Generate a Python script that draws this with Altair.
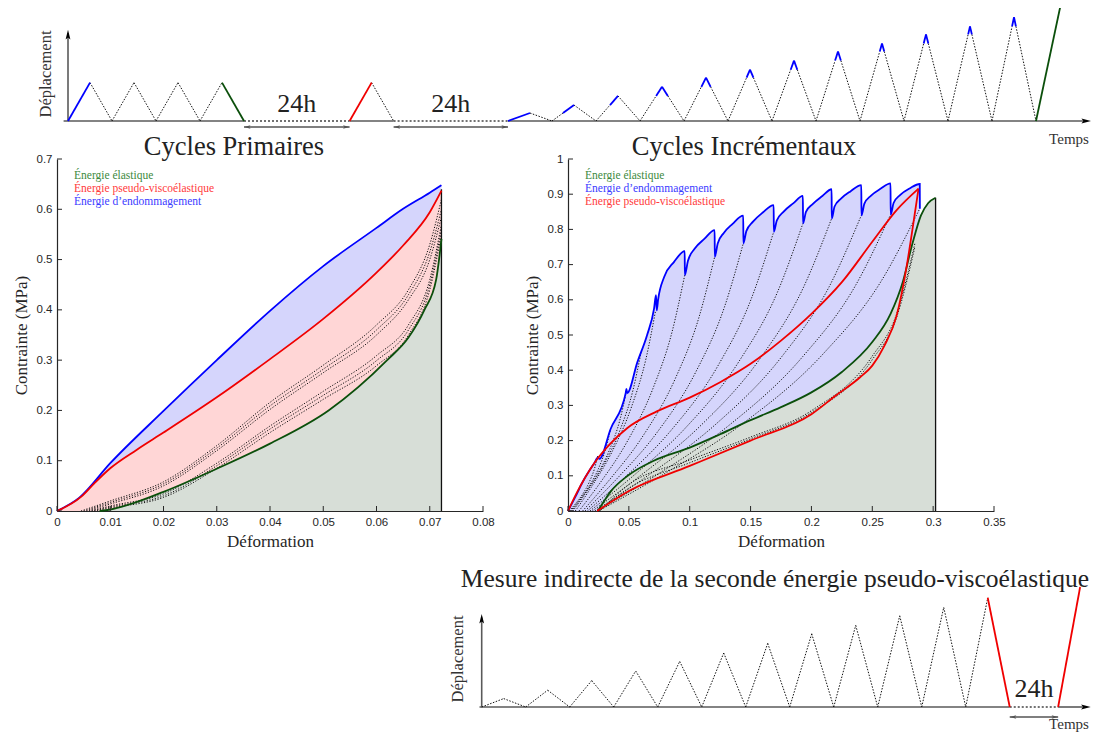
import altair as alt
import pandas as pd

SERIF = "Liberation Serif"
SANS = "Liberation Sans"
AX = "#262626"

# ---------------- schematic (displacement vs time) data ----------------
prim_peak = 3.37
prim_t = [0, 1, 2, 3, 4, 5, 6, 7, 8]
prim_d = [0, prim_peak, 0, prim_peak, 0, prim_peak, 0, prim_peak, 0]
prim_kind = ["blue", "dot", "dot", "dot", "dot", "dot", "dot", "green"]
red_cycle_t = [12.8, 13.8, 14.8]
rest_top_start = [8, 14.8]
rest_top_end = [12.8, 20]
inc_start_top = 20
inc_peaks = [0.7, 1.4, 2.2, 3.0, 3.8, 4.5, 5.3, 6.1, 6.8, 7.6, 8.3, 9.1]
final_top = 10.0
final_t_top = [44, 45.1]
top_x_domain = [-0.5, 46.5]
top_axis_t = [-0.2, 46.5]
top_arrow_d = 8.0

inc_start_bot = 0
rest_bot_start = [24]
rest_bot_end = [26.2]
final_t_bot = [26.2, 27.2]
bot_x_domain = [-0.1, 27.68]
bot_axis_t = [-0.1, 27.68]
bot_arrow_d = 7.75

# ---------------- Cycles Primaires data ----------------
prim_blue_x = [0, 0.0042, 0.01, 0.02, 0.03, 0.04, 0.05, 0.06, 0.065, 0.07, 0.0722]
prim_blue_y = [0, 0.0265, 0.095, 0.199, 0.300, 0.398, 0.487, 0.563, 0.601, 0.633, 0.648]
prim_red_x = [0, 0.0045, 0.007, 0.01, 0.015, 0.02, 0.03, 0.04, 0.05, 0.06, 0.065, 0.07, 0.0722]
prim_red_y = [0, 0.028, 0.055, 0.085, 0.122, 0.156, 0.226, 0.302, 0.382, 0.474, 0.528, 0.594, 0.637]
prim_green_x = [0.008, 0.01, 0.013, 0.02, 0.03, 0.04, 0.051, 0.062, 0.066, 0.069, 0.0712, 0.0722]
prim_green_y = [0, 0.003, 0.011, 0.038, 0.084, 0.134, 0.2, 0.3, 0.345, 0.4, 0.46, 0.541]
prim_dot_x0 = [0.0045, 0.005, 0.0055, 0.006, 0.0065, 0.007]
prim_dot_x = [0.01, 0.02, 0.03, 0.04, 0.05, 0.06, 0.066, 0.07, 0.0722]
prim_dot_y = [
    [0.02, 0.058, 0.13, 0.216, 0.29, 0.37, 0.44, 0.53, 0.62],
    [0.017, 0.054, 0.125, 0.209, 0.282, 0.36, 0.43, 0.515, 0.6],
    [0.014, 0.05, 0.12, 0.202, 0.275, 0.35, 0.42, 0.5, 0.585],
    [0.01, 0.034, 0.095, 0.169, 0.238, 0.309, 0.37, 0.46, 0.57],
    [0.008, 0.03, 0.09, 0.163, 0.23, 0.299, 0.36, 0.45, 0.56],
    [0.006, 0.027, 0.085, 0.156, 0.222, 0.289, 0.35, 0.44, 0.55],
]
prim_end_x = 0.0722
prim_end_top = 0.64
prim_x_ticks = [0, 0.01, 0.02, 0.03, 0.04, 0.05, 0.06, 0.07, 0.08]
prim_y_ticks = [0, 0.1, 0.2, 0.3, 0.4, 0.5, 0.6, 0.7]

# ---------------- Cycles Incrementaux data ----------------
inc_blue_x = [0, 0.006, 0.0118, 0.0214, 0.0247, 0.0258, 0.035, 0.0474, 0.048, 0.0486,
              0.057, 0.065, 0.0707, 0.0723, 0.0729, 0.074, 0.079, 0.087, 0.0959,
              0.096, 0.0985, 0.104, 0.112, 0.1205,
              0.1206, 0.123, 0.128, 0.135, 0.144,
              0.1441, 0.1465, 0.152, 0.16, 0.169,
              0.1691, 0.1715, 0.177, 0.185, 0.193,
              0.1931, 0.1955, 0.201, 0.209, 0.2166,
              0.2167, 0.219, 0.2245, 0.232, 0.241,
              0.2411, 0.2435, 0.249, 0.257, 0.265,
              0.2651, 0.2675, 0.273, 0.281, 0.289, 0.2891]
inc_blue_y = [0, 0.04, 0.081, 0.135, 0.152, 0.148, 0.233, 0.335, 0.347, 0.335,
              0.423, 0.5, 0.575, 0.613, 0.57, 0.6, 0.665, 0.707, 0.738,
              0.67, 0.71, 0.745, 0.773, 0.798,
              0.722, 0.76, 0.79, 0.815, 0.839,
              0.76, 0.795, 0.822, 0.848, 0.869,
              0.793, 0.825, 0.85, 0.874, 0.895,
              0.817, 0.85, 0.872, 0.895, 0.914,
              0.831, 0.865, 0.888, 0.908, 0.926,
              0.84, 0.873, 0.896, 0.916, 0.931,
              0.842, 0.875, 0.898, 0.917, 0.929, 0.859]
inc_red_up_x = [0, 0.0077, 0.0214, 0.035, 0.0488, 0.073, 0.1, 0.125, 0.15, 0.175, 0.2, 0.225, 0.25, 0.27, 0.288]
inc_red_up_y = [0, 0.055, 0.135, 0.192, 0.236, 0.283, 0.322, 0.366, 0.418, 0.484, 0.56, 0.65, 0.765, 0.855, 0.916]
inc_red_dn_x = [0.024, 0.05, 0.1, 0.15, 0.2, 0.22, 0.24, 0.25, 0.26, 0.27, 0.278, 0.283, 0.286, 0.288]
inc_red_dn_y = [0, 0.057, 0.128, 0.2, 0.275, 0.328, 0.38, 0.413, 0.47, 0.555, 0.69, 0.8, 0.87, 0.916]
inc_green_x = [0.0245, 0.03, 0.035, 0.049, 0.07, 0.1, 0.125, 0.15, 0.175, 0.2, 0.225, 0.25, 0.265, 0.275, 0.283, 0.29, 0.296, 0.302]
inc_green_y = [0, 0.03, 0.055, 0.1, 0.142, 0.18, 0.218, 0.258, 0.295, 0.337, 0.395, 0.48, 0.56, 0.65, 0.76, 0.84, 0.875, 0.89]
inc_dot_x = [
    [0.001, 0.0057, 0.0117, 0.0176, 0.0219, 0.0247],
    [0.002, 0.0086, 0.0169, 0.0251, 0.031, 0.035],
    [0.003, 0.012, 0.0233, 0.0345, 0.0426, 0.048],
    [0.004, 0.0152, 0.0292, 0.0432, 0.0533, 0.06],
    [0.006, 0.0192, 0.0357, 0.0522, 0.0641, 0.072],
    [0.009, 0.0264, 0.0481, 0.0698, 0.0855, 0.0959],
    [0.012, 0.0337, 0.0608, 0.088, 0.1075, 0.1205],
    [0.014, 0.04, 0.0725, 0.105, 0.1284, 0.144],
    [0.016, 0.0466, 0.0849, 0.1231, 0.1506, 0.169],
    [0.018, 0.053, 0.0968, 0.1405, 0.172, 0.193],
    [0.02, 0.0593, 0.1085, 0.1576, 0.193, 0.2166],
    [0.022, 0.0658, 0.1206, 0.1753, 0.2147, 0.241],
    [0.024, 0.0722, 0.1325, 0.1927, 0.2361, 0.265],
    [0.025, 0.0778, 0.1438, 0.2098, 0.2573, 0.289],
    [0.026, 0.05, 0.1, 0.15, 0.2, 0.25, 0.27, 0.285],
    [0.025, 0.05, 0.1, 0.15, 0.2, 0.25, 0.27, 0.285],
]
inc_dot_y = [
    [0, 0.019, 0.046, 0.083, 0.122, 0.16],
    [0, 0.028, 0.068, 0.121, 0.177, 0.233],
    [0, 0.041, 0.099, 0.177, 0.258, 0.34],
    [0, 0.054, 0.131, 0.234, 0.342, 0.45],
    [0, 0.068, 0.165, 0.296, 0.433, 0.57],
    [0, 0.080, 0.194, 0.348, 0.509, 0.67],
    [0, 0.087, 0.209, 0.375, 0.549, 0.722],
    [0, 0.091, 0.22, 0.395, 0.578, 0.76],
    [0, 0.095, 0.23, 0.412, 0.603, 0.793],
    [0, 0.098, 0.237, 0.425, 0.621, 0.817],
    [0, 0.1, 0.241, 0.432, 0.632, 0.831],
    [0, 0.101, 0.244, 0.437, 0.638, 0.84],
    [0, 0.101, 0.244, 0.438, 0.64, 0.842],
    [0, 0.103, 0.249, 0.447, 0.653, 0.859],
    [0, 0.075, 0.145, 0.21, 0.285, 0.44, 0.56, 0.76],
    [0, 0.065, 0.137, 0.205, 0.28, 0.43, 0.55, 0.75],
]
inc_end_x = 0.302
inc_end_top = 0.89
inc_x_ticks = [0, 0.05, 0.1, 0.15, 0.2, 0.25, 0.3, 0.35]
inc_y_ticks = [0, 0.1, 0.2, 0.3, 0.4, 0.5, 0.6, 0.7, 0.8, 0.9, 1]

prim_legend = ["Énergie élastique", "Énergie pseudo-viscoélastique", "Énergie d’endommagement"]
prim_legend_col = ["#3d8a3d", "#ff3b3b", "#3b3bff"]
inc_legend = ["Énergie élastique", "Énergie d’endommagement", "Énergie pseudo-viscoélastique"]
inc_legend_col = ["#3d8a3d", "#3b3bff", "#ff3b3b"]

BLUE, RED, GREEN = "#0000ff", "#f00000", "#0b4f0b"
BLUE_FILL, RED_FILL, GREEN_FILL = "#d5d5fc", "#ffd6d6", "#d7ded7"
KIND_COLORS = {"blue": BLUE, "red": RED, "green": GREEN}

# ---------------- schematic builders ----------------
def incremental(t0, peaks, blue_tops, last_down_red=False):
    segs = []
    prev = 0
    for k, h in enumerate(peaks):
        ta, tp, tb = t0 + 2 * k, t0 + 2 * k + 1, t0 + 2 * k + 2
        if blue_tops:
            if k == 0:
                segs.append(("blue", [(ta, 0), (tp, h)]))
            else:
                tm = ta + prev / h
                segs.append(("dot", [(ta, 0), (tm, prev)]))
                segs.append(("blue", [(tm, prev), (tp, h)]))
            if k >= 3:
                tn = tp + (1 - prev / h)
                segs.append(("blue", [(tp, h), (tn, prev)]))
                segs.append(("dot", [(tn, prev), (tb, 0)]))
            else:
                segs.append(("dot", [(tp, h), (tb, 0)]))
        else:
            segs.append(("dot", [(ta, 0), (tp, h)]))
            kind = "red" if (last_down_red and k == len(peaks) - 1) else "dot"
            segs.append((kind, [(tp, h), (tb, 0)]))
        prev = h
    return segs


def seg_df(segs):
    rows = []
    for sid, (kind, pts) in enumerate(segs):
        for i, (t, d) in enumerate(pts):
            rows.append(dict(seg=sid, kind=kind, t=t, d=d, i=i))
    return pd.DataFrame(rows)


ARROW_UP = "M0,0 L0.6,2.4 L0,1.9 L-0.6,2.4 Z"
ARROW_RIGHT = "M0,0 L-2.4,0.6 L-1.9,0 L-2.4,-0.6 Z"
ARROW_LEFT = "M0,0 L2.4,0.6 L1.9,0 L2.4,-0.6 Z"


def text_layer(txt, x, y, size, color="#222222", angle=0, align="center"):
    mk = dict(font=SERIF, fontSize=size, color=color, baseline="middle", align=align)
    if angle:
        mk["angle"] = angle
    return alt.Chart(pd.DataFrame({"lbl": [txt]})).mark_text(**mk).encode(
        x=alt.value(x), y=alt.value(y), text="lbl:N")


def schematic(segs, axis_segs, xs, ys, arrow_t, arrow_d, rests_s, rests_e,
              lab_pos, temps_pos, h24_y, dbl_y, extra_text=None):
    X = lambda f: alt.X(f, type="quantitative", scale=xs, axis=None)
    Y = lambda f: alt.Y(f, type="quantitative", scale=ys, axis=None)
    sdf = seg_df(segs)
    adf = seg_df(axis_segs)
    layers = []
    layers.append(alt.Chart(adf[adf.kind == "axis"]).mark_line(color="#5a5a5a", strokeWidth=1.6).encode(
        x=X("t"), y=Y("d"), detail="seg:N", order="i:Q"))
    layers.append(alt.Chart(adf[adf.kind == "axisdot"]).mark_line(color="#444444", strokeWidth=1.3, strokeDash=[2, 2]).encode(
        x=X("t"), y=Y("d"), detail="seg:N", order="i:Q"))
    layers.append(alt.Chart(sdf[sdf.kind == "dot"]).mark_line(color="#111111", strokeWidth=1, strokeDash=[1.5, 1.5]).encode(
        x=X("t"), y=Y("d"), detail="seg:N", order="i:Q"))
    for kind, col in KIND_COLORS.items():
        sub = sdf[sdf.kind == kind]
        if len(sub):
            layers.append(alt.Chart(sub).mark_line(strokeWidth=1.8, color=col).encode(
                x=X("t"), y=Y("d"), detail="seg:N", order="i:Q"))
    layers.append(alt.Chart(pd.DataFrame({"t": [0], "d": [arrow_d]})).mark_point(
        shape=ARROW_UP, filled=True, size=64, color="black", opacity=1, strokeWidth=0).encode(x=X("t"), y=Y("d")))
    layers.append(alt.Chart(pd.DataFrame({"t": [arrow_t], "d": [0]})).mark_point(
        shape=ARROW_RIGHT, filled=True, size=64, color="black", opacity=1, strokeWidth=0).encode(x=X("t"), y=Y("d")))
    rdf = pd.DataFrame({"s": rests_s, "e": rests_e})
    rdf["mid"] = (rdf.s + rdf.e) / 2
    rdf["lbl"] = "24h"
    layers.append(alt.Chart(rdf).mark_rule(color="#555555", strokeWidth=1.3).encode(
        x=X("s"), x2="e:Q", y=alt.value(dbl_y)))
    layers.append(alt.Chart(rdf).mark_point(shape=ARROW_LEFT, filled=True, size=30, color="#555555", opacity=1, strokeWidth=0).encode(
        x=X("s"), y=alt.value(dbl_y)))
    layers.append(alt.Chart(rdf).mark_point(shape=ARROW_RIGHT, filled=True, size=30, color="#555555", opacity=1, strokeWidth=0).encode(
        x=X("e"), y=alt.value(dbl_y)))
    layers.append(alt.Chart(rdf).mark_text(
        font=SERIF, fontSize=26, color="#222222", baseline="middle").encode(
        x=X("mid"), y=alt.value(h24_y), text="lbl:N"))
    layers.append(text_layer("Déplacement", lab_pos[0], lab_pos[1], 16.5, "#333333", angle=270))
    layers.append(text_layer("Temps", temps_pos[0], temps_pos[1], 15, "#333333"))
    if extra_text:
        txt, pos, fs = extra_text
        layers.append(text_layer(txt, pos[0], pos[1], fs))
    return alt.layer(*layers)


# top schematic segments
top_segs = []
for k in range(len(prim_t) - 1):
    top_segs.append((prim_kind[k], [(prim_t[k], prim_d[k]), (prim_t[k + 1], prim_d[k + 1])]))
top_segs.append(("red", [(red_cycle_t[0], 0), (red_cycle_t[1], prim_peak)]))
top_segs.append(("dot", [(red_cycle_t[1], prim_peak), (red_cycle_t[2], 0)]))
top_segs += incremental(inc_start_top, inc_peaks, blue_tops=True)
top_segs.append(("green", [(final_t_top[0], 0), (final_t_top[1], final_top)]))

top_axis = [("axis", [(0, 0), (0, top_arrow_d - 0.3)]),
            ("axis", [(top_axis_t[0], 0), (rest_top_start[0], 0)]),
            ("axisdot", [(rest_top_start[0], 0), (rest_top_end[0], 0)]),
            ("axis", [(rest_top_end[0], 0), (rest_top_start[1], 0)]),
            ("axisdot", [(rest_top_start[1], 0), (rest_top_end[1], 0)]),
            ("axis", [(rest_top_end[1], 0), (top_axis_t[1] - 0.2, 0)])]

bot_segs = incremental(inc_start_bot, inc_peaks, blue_tops=False, last_down_red=True)
bot_segs.append(("red", [(final_t_bot[0], 0), (final_t_bot[1], final_top)]))
bot_axis = [("axis", [(0, 0), (0, bot_arrow_d - 0.3)]),
            ("axis", [(bot_axis_t[0], 0), (rest_bot_start[0], 0)]),
            ("axisdot", [(rest_bot_start[0], 0), (rest_bot_end[0], 0)]),
            ("axis", [(rest_bot_end[0], 0), (bot_axis_t[1] - 0.2, 0)])]

TOP_W, TOP_H = 1034, 114
top = schematic(top_segs, top_axis,
                alt.Scale(domain=top_x_domain, nice=False, zero=False),
                alt.Scale(domain=[0, 10], nice=False, zero=False),
                top_axis_t[1], top_arrow_d, rest_top_start, rest_top_end,
                lab_pos=(-11, 67), temps_pos=(1012, 132), h24_y=97, dbl_y=120
                ).properties(width=TOP_W, height=TOP_H)

# bottom schematic, drawn in the frame of the right panel (placed below it)
bottom = schematic(bot_segs, bot_axis,
                   alt.Scale(domain=bot_x_domain, range=[-88.5, 522.7], nice=False, zero=False),
                   alt.Scale(domain=[0, 10], range=[548, 428], nice=False, zero=False),
                   bot_axis_t[1], bot_arrow_d, rest_bot_start, rest_bot_end,
                   lab_pos=(-110, 500), temps_pos=(501, 565), h24_y=530, dbl_y=558,
                   extra_text=("Mesure indirecte de la seconde énergie pseudo-viscoélastique", (207, 420), 25.5))


# ---------------- stress-strain panels ----------------
def curve(xs, ys, name):
    return pd.DataFrame({"x": xs, "y": ys, "i": list(range(len(xs))), "c": name})


def panel(xdom, ydom, xticks, yticks, H, fills, lines, dots, end_x, end_top, title, legend, legend_cols):
    xsc = alt.Scale(domain=xdom, nice=False, zero=False)
    ysc = alt.Scale(domain=ydom, nice=False, zero=False)
    X = lambda f: alt.X(f, type="quantitative", scale=xsc,
                        axis=alt.Axis(values=xticks, format="~g", title="Déformation"))
    Y = lambda f: alt.Y(f, type="quantitative", scale=ysc,
                        axis=alt.Axis(values=yticks, format="~g", title="Contrainte (MPa)"))
    layers = []
    for df, col in fills:
        layers.append(alt.Chart(df).mark_area(color=col, opacity=1, interpolate="monotone").encode(x=X("x"), y=Y("y")))
    ddf = pd.concat(dots, ignore_index=True)
    layers.append(alt.Chart(ddf).mark_line(color="#111111", strokeWidth=1, strokeDash=[1.2, 1.6], interpolate="monotone").encode(
        x=X("x"), y=Y("y"), detail="c:N", order="i:Q"))
    layers.append(alt.Chart(pd.DataFrame({"x": [end_x], "y0": [0], "y1": [end_top]})).mark_rule(
        color="#111111", strokeWidth=1.3).encode(x=X("x"), y=Y("y0"), y2="y1:Q"))
    for df, col in lines:
        layers.append(alt.Chart(df).mark_line(color=col, strokeWidth=1.8, interpolate="monotone").encode(
            x=X("x"), y=Y("y"), order="i:Q"))
    layers.append(alt.Chart(pd.DataFrame({"x": xticks})).mark_rule(color=AX, strokeWidth=1).encode(
        x=X("x"), y=alt.value(H), y2=alt.value(H - 5)))
    layers.append(alt.Chart(pd.DataFrame({"y": yticks})).mark_rule(color=AX, strokeWidth=1).encode(
        y=Y("y"), x=alt.value(0), x2=alt.value(5)))
    for k, (lbl, col) in enumerate(zip(legend, legend_cols)):
        layers.append(text_layer(lbl, 17, 17 + 13 * k, 11.5, col, align="left"))
    layers.append(text_layer(title[0], title[1], -12, 26.5))
    return alt.layer(*layers)


PW, PH = 426, 352
left = panel([0, 0.08], [0, 0.7], prim_x_ticks, prim_y_ticks, PH,
             fills=[(curve(prim_blue_x, prim_blue_y, "b"), BLUE_FILL),
                    (curve(prim_red_x, prim_red_y, "r"), RED_FILL),
                    (curve(prim_green_x, prim_green_y, "g"), GREEN_FILL)],
             lines=[(curve(prim_green_x, prim_green_y, "g"), GREEN),
                    (curve(prim_blue_x, prim_blue_y, "b"), BLUE),
                    (curve(prim_red_x, prim_red_y, "r"), RED)],
             dots=[curve([prim_dot_x0[j]] + prim_dot_x, [0] + prim_dot_y[j], "d%d" % j) for j in range(len(prim_dot_x0))],
             end_x=prim_end_x, end_top=prim_end_top,
             title=("Cycles Primaires", 177), legend=prim_legend, legend_cols=prim_legend_col
             ).properties(width=PW, height=PH)

right_panel = panel([0, 0.35], [0, 1], inc_x_ticks, inc_y_ticks, PH,
                    fills=[(curve(inc_blue_x, inc_blue_y, "b"), BLUE_FILL),
                           (curve(inc_green_x, inc_green_y, "g"), GREEN_FILL)],
                    lines=[(curve(inc_green_x, inc_green_y, "g"), GREEN),
                           (curve(inc_red_dn_x, inc_red_dn_y, "rd"), RED),
                           (curve(inc_blue_x, inc_blue_y, "b"), BLUE),
                           (curve(inc_red_up_x, inc_red_up_y, "ru"), RED)],
                    dots=[curve(inc_dot_x[j], inc_dot_y[j], "d%d" % j) for j in range(len(inc_dot_x))],
                    end_x=inc_end_x, end_top=inc_end_top,
                    title=("Cycles Incrémentaux", 176), legend=inc_legend, legend_cols=inc_legend_col)

right = alt.layer(right_panel, bottom).resolve_scale(
    x="independent", y="independent").properties(width=PW, height=PH)

middle = alt.hconcat(left, right, spacing=85, bounds="flush")

chart = alt.vconcat(top, middle, spacing=38, bounds="flush").properties(
    padding={"left": 4, "top": -5, "right": 0, "bottom": 0}
).configure_axis(
    domainColor=AX, domainWidth=1.2, tickSize=0, labelFont=SANS, labelFontSize=11.5, labelColor=AX,
    labelPadding=5, labelFlush=False, labelOverlap=False, titleFont=SERIF, titleFontSize=17,
    titleFontWeight="normal", titleColor=AX, grid=False, titlePadding=6
).configure_view(stroke=None)

chart.save("out.html", embed_options={"renderer": "svg", "actions": False})
